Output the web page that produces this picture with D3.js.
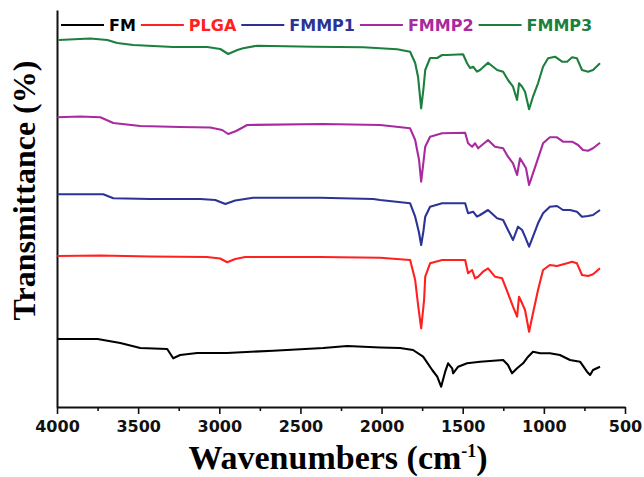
<!DOCTYPE html>
<html>
<head>
<meta charset="utf-8">
<script src="https://cdn.jsdelivr.net/npm/d3@7.9.0/dist/d3.min.js"></script>
<style>
  body { margin: 0; background: #fff; }
  svg { display: block; }
</style>
</head>
<body>
<svg id="chart" width="644" height="477"></svg>
<script>
// FTIR spectra, [wavenumber cm-1, transmittance a.u. (stacked offsets)]
const fmData = [
  [3998, 68], [3750, 68], [3610, 64], [3487, 59], [3321, 58], [3284, 48.7], [3241, 52],
  [3136, 54], [2952, 54], [2668, 56.3], [2360, 59], [2212, 61], [2009, 59.5], [1886, 59],
  [1806, 57], [1744, 50.3], [1688, 37], [1657, 30.3], [1633, 20.3], [1608, 35.3], [1590, 43.7],
  [1565, 38.7], [1559, 33.7], [1528, 40.3], [1473, 43.7], [1393, 45.3], [1251, 47], [1221, 42],
  [1196, 33.7], [1165, 38.7], [1128, 43.7], [1097, 50.3], [1067, 55.3], [1023, 53.7], [963, 53.7],
  [901, 52], [839, 47], [777, 45.3], [734, 35.3], [715, 32], [697, 37], [654, 40.3]
];
const plgaData = [
  [3998, 151], [3733, 151.5], [3426, 150.5], [3076, 150], [2995, 148.5], [2951, 144.7], [2902, 148],
  [2840, 150], [2378, 150], [2009, 149.3], [1824, 147], [1793, 127], [1775, 102], [1756, 78.7],
  [1738, 107], [1731, 130.3], [1701, 143.7], [1627, 147], [1485, 147], [1467, 133.7], [1442, 137],
  [1424, 128.7], [1405, 130.3], [1375, 135.3], [1344, 138.7], [1301, 130.3], [1257, 128.7],
  [1221, 113.7], [1190, 100.3], [1165, 90.3], [1153, 110.3], [1134, 103.7], [1116, 97], [1091, 75.3],
  [1067, 93.7], [1036, 117], [1005, 137], [963, 142], [919, 141], [857, 143.7], [826, 145.3],
  [796, 143.7], [765, 132], [728, 131], [697, 132.7], [654, 138.7]
];
const fmmp1Data = [
  [3998, 212.7], [3715, 212.7], [3653, 208.7], [3426, 208], [3118, 208], [3025, 207], [2963, 203],
  [2902, 206.5], [2791, 209.3], [2378, 209.3], [2051, 208], [2009, 207], [1824, 203.7], [1793, 190.3],
  [1770, 175], [1756, 162], [1742, 176], [1731, 190.3], [1701, 200.3], [1627, 203.7], [1485, 203.7],
  [1467, 193.7], [1436, 195.3], [1412, 190.3], [1393, 192], [1344, 197], [1288, 188.7], [1251, 187],
  [1221, 177], [1190, 167], [1159, 180.3], [1134, 177], [1116, 170.3], [1091, 160.3], [1067, 170.3],
  [1036, 183.7], [1005, 193.7], [963, 200.3], [919, 201], [882, 197], [839, 197], [796, 195.3],
  [765, 190.3], [728, 191], [697, 192], [654, 197]
];
const fmmp2Data = [
  [3998, 289.7], [3857, 290.5], [3733, 289.7], [3653, 284], [3487, 281], [3241, 280], [3056, 279.5],
  [2982, 277], [2945, 273], [2896, 276], [2828, 282], [2359, 283], [2009, 282], [1824, 278.7],
  [1793, 267], [1769, 247], [1756, 225.3], [1744, 242], [1731, 260.3], [1701, 270.3], [1627, 273.7],
  [1485, 274.3], [1467, 263.7], [1442, 260.3], [1424, 263.7], [1405, 258.7], [1344, 267], [1301, 260.3],
  [1251, 258.7], [1221, 250.3], [1190, 243.7], [1165, 232], [1147, 248.7], [1128, 243.7], [1110, 238.7],
  [1091, 222], [1067, 233.7], [1036, 248.7], [1005, 263.7], [963, 269.7], [919, 269.7], [882, 265.3],
  [826, 265.3], [789, 262], [759, 257], [728, 256.3], [697, 258.7], [654, 264.3]
];
const fmmp3Data = [
  [3990, 367], [3795, 368.5], [3690, 367], [3629, 364], [3530, 362], [3284, 360], [3074, 360],
  [2994, 358], [2945, 353], [2889, 357], [2853, 358.7], [2766, 361.3], [2421, 360.3], [2113, 359.7],
  [2009, 358.7], [1904, 357.7], [1824, 355.3], [1793, 344], [1775, 330], [1756, 298.7], [1742, 318],
  [1731, 337], [1701, 349], [1657, 349], [1627, 352], [1596, 352], [1498, 352.7], [1473, 343.7],
  [1455, 339], [1436, 340.3], [1412, 335.3], [1393, 337], [1344, 344.3], [1288, 337], [1251, 335.3],
  [1221, 327], [1190, 320.3], [1165, 307], [1153, 323.7], [1134, 320.3], [1116, 315.3], [1091, 297.7],
  [1067, 310.3], [1036, 323.7], [1005, 340.3], [974, 348.7], [931, 350.3], [888, 345.3], [857, 345.3],
  [826, 349.7], [796, 348.7], [765, 337], [728, 335.3], [697, 337], [654, 343.7]
];

const seriesNames = ["FM", "PLGA", "FMMP1", "FMMP2", "FMMP3"];
const seriesColors = ["#000000", "#ff2020", "#2b3496", "#a82aa0", "#1b7f3e"];
const seriesData = [fmData, plgaData, fmmp1Data, fmmp2Data, fmmp3Data];

const majorTicks = [4000, 3500, 3000, 2500, 2000, 1500, 1000, 500];
const minorTicks = [3750, 3250, 2750, 2250, 1750, 1250, 750];

const svg = d3.select("#chart");
const margin = { top: 10, right: 19, bottom: 70, left: 57 };
const width = +svg.attr("width") - margin.left - margin.right;
const height = +svg.attr("height") - margin.top - margin.bottom;

const g = svg.append("g").attr("transform", `translate(${margin.left},${margin.top})`);

const xScale = d3.scaleLinear().domain([4000, 500]).range([0, width]);
const yScale = d3.scaleLinear().domain([0, 397]).range([height, 0]);

// axes
const xAxis = g.append("g")
  .attr("transform", `translate(0,${height})`)
  .call(d3.axisBottom(xScale).tickValues(majorTicks).tickFormat(d3.format("d"))
    .tickSize(7).tickSizeOuter(0).tickPadding(7));
xAxis.selectAll("text")
  .attr("font-family", "DejaVu Sans")
  .attr("font-weight", "bold")
  .attr("font-size", "16px")
  .attr("fill", "#111");

const xMinor = g.append("g")
  .attr("transform", `translate(0,${height})`)
  .call(d3.axisBottom(xScale).tickValues(minorTicks).tickSize(4).tickFormat(""));
xMinor.select(".domain").remove();

const yAxis = g.append("g")
  .call(d3.axisLeft(yScale).tickValues([]).tickSizeOuter(0));

g.selectAll(".domain").attr("stroke", "#111").attr("stroke-width", 2);
g.selectAll(".tick line").attr("stroke", "#111").attr("stroke-width", 1.6);

// spectra
const line = d3.line().x(d => xScale(d[0])).y(d => yScale(d[1]));

seriesData.forEach((data, i) => {
  g.append("path")
    .datum(data)
    .attr("class", "line-path")
    .attr("fill", "none")
    .attr("stroke", seriesColors[i])
    .attr("stroke-width", 2.1)
    .attr("stroke-linejoin", "round")
    .attr("d", line);
});

// legend
const legend = svg.append("g").attr("class", "legend").attr("transform", "translate(61,25)");
let lx = 0;
seriesNames.forEach((name, i) => {
  legend.append("line")
    .attr("x1", lx).attr("x2", lx + 43)
    .attr("y1", 0).attr("y2", 0)
    .attr("stroke", seriesColors[i])
    .attr("stroke-width", 2.2);
  const t = legend.append("text")
    .attr("x", lx + 48)
    .attr("y", 5.8)
    .attr("font-family", "DejaVu Sans")
    .attr("font-weight", "bold")
    .attr("font-size", "16px")
    .attr("fill", seriesColors[i])
    .text(name);
  lx += 48 + t.node().getComputedTextLength() + 5;
});

// axis titles
const xTitle = svg.append("text")
  .attr("x", 338)
  .attr("y", 469)
  .attr("text-anchor", "middle")
  .attr("font-family", "Liberation Serif")
  .attr("font-weight", "bold")
  .attr("font-size", "34px")
  .attr("fill", "#000");
xTitle.append("tspan").text("Wavenumbers (cm");
xTitle.append("tspan").attr("font-size", "18px").attr("dy", -12).text("-1");
xTitle.append("tspan").attr("dy", 12).text(")");

svg.append("text")
  .attr("transform", "translate(35,190.5) rotate(-90)")
  .attr("text-anchor", "middle")
  .attr("font-family", "Liberation Serif")
  .attr("font-weight", "bold")
  .attr("font-size", "32px")
  .attr("fill", "#000")
  .text("Transmittance (%)");
</script>
</body>
</html>
